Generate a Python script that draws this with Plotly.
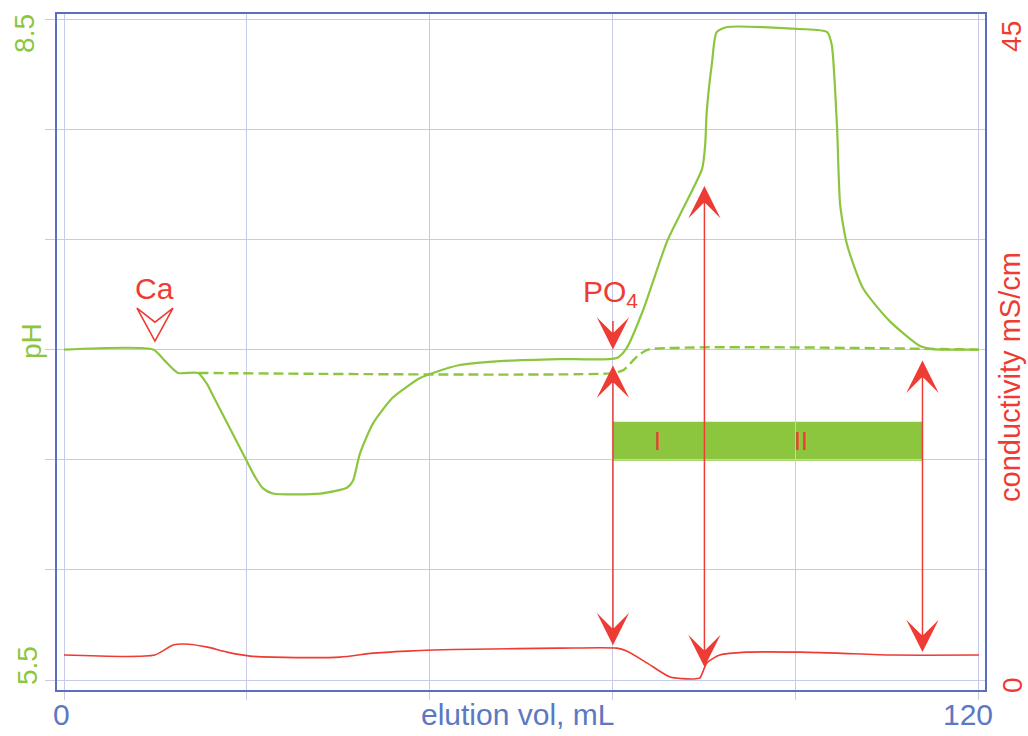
import plotly.graph_objects as go

# ---------------- data ----------------
# pH trace (solid green)
ph_x = [0, 11.7, 13.2, 14.95, 17.6, 18.75, 19.6, 24.0, 25.05, 26.1, 27.4, 33.6, 37.1, 37.9, 38.8,
        40.5, 43.1, 46.7, 48.4, 51.9, 57.2, 65.0, 72.5, 73.8, 75.9, 79.1, 81.2, 83.7, 84.1,
        84.3, 85.0, 85.6, 87.0, 96.5, 100.1, 100.7, 101.4, 101.8, 102.7, 104.8, 108.3, 112.3,
        114.0, 120]
ph_y = [7.0, 7.0, 6.95, 6.894, 6.894, 6.844, 6.787, 6.492, 6.423, 6.37, 6.347, 6.346, 6.373, 6.405, 6.527,
        6.663, 6.781, 6.871, 6.894, 6.930, 6.948, 6.957, 6.962, 7.007, 7.174, 7.491, 7.640, 7.821, 7.930,
        8.079, 8.305, 8.441, 8.464, 8.455, 8.441, 8.382, 8.002, 7.658, 7.477, 7.278, 7.129, 7.016,
        7.002, 7.0]

# pH baseline without sample (dashed green)
ph_ref_x = [17.6, 72.3, 73.5, 75.2, 76.6, 120]
ph_ref_y = [6.894, 6.894, 6.91, 6.97, 7.0, 7.0]

# conductivity trace (red)
cond_x = [0, 11.9, 14.3, 16.3, 18.8, 21.4, 24.4, 27.4, 36.2, 40.5, 45.0, 48.4, 53.6, 65.0, 72.5,
          73.8, 76.5, 79.5, 82.5, 83.4, 84.3, 86.0, 89.6, 96.5, 101.4, 108.7, 120]
cond_y = [1.70, 1.70, 2.38, 2.44, 2.24, 1.90, 1.63, 1.56, 1.56, 1.83, 1.97, 2.04, 2.10, 2.17, 2.17,
          1.97, 1.15, 0.20, 0.07, 0.14, 1.15, 1.70, 1.90, 1.90, 1.83, 1.70, 1.70]

# double-headed marker arrows (x position, pH of top tip, pH of bottom tip)
arrow_x = [72.0, 84.0, 112.6]
arrow_top = [6.934, 7.749, 6.957]
arrow_bottom = [5.658, 5.559, 5.627]

# fraction bar
fraction_start, fraction_end = 72.0, 112.6
fraction_low, fraction_high = 6.495, 6.672
fraction_labels = ["I", "II"]
fraction_label_x = [77.9, 96.6]

# injection markers
ca_x, ca_ph = 11.93, 7.12
po4_x, po4_ph = 72.0, 7.0

# axis ticks / ranges
x_grid = [0, 24, 48, 72, 96, 120]
ph_grid = [5.5, 6.0, 6.5, 7.0, 7.5, 8.0, 8.5]
x_range = [-0.92, 120.8]
ph_range = [5.455, 8.523]
cond_range = [-0.679, 45.34]

# ---------------- style ----------------
GREEN = "#8cc63f"
RED = "#ee3b33"
BLUE = "#5a6ebe"
BLUE_TXT = "#5b78c2"
GRID = "#c5cbe8"
FONT = "Liberation Sans, Arial, sans-serif"
FS_H = 30   # horizontal texts
FS_V = 28   # rotated texts

W, H = 1028, 736
ML, MR, MT, MB = 57, 43, 12, 46
PW, PH_ = W - ML - MR, H - MT - MB


def px2paper(px, py):
    return (px - ML) / PW, (H - MB - py) / PH_


fig = go.Figure()

fig.add_trace(go.Scatter(x=ph_ref_x, y=ph_ref_y, mode="lines",
                         line=dict(color=GREEN, width=2.4, dash="10px,5px", shape="spline", smoothing=0.5),
                         hoverinfo="skip", showlegend=False))
fig.add_trace(go.Scatter(x=ph_x, y=ph_y, mode="lines",
                         line=dict(color=GREEN, width=2.2, shape="spline", smoothing=0.6),
                         showlegend=False))
fig.add_trace(go.Scatter(x=cond_x, y=cond_y, mode="lines", yaxis="y2",
                         line=dict(color=RED, width=1.6, shape="spline", smoothing=0.6),
                         showlegend=False))

# fraction bar
fig.add_shape(type="rect", xref="x", yref="y", x0=fraction_start, x1=fraction_end,
              y0=fraction_low, y1=fraction_high, fillcolor=GREEN, line=dict(width=0), layer="below")

annotations = []
for lbl, lx in zip(fraction_labels, fraction_label_x):
    annotations.append(dict(x=lx, y=(fraction_low + fraction_high) / 2, xref="x", yref="y",
                            text=lbl, showarrow=False, font=dict(color=RED, size=25, family=FONT),
                            xanchor="center", yanchor="middle"))

# double-headed arrows
for ax_, top, bot in zip(arrow_x, arrow_top, arrow_bottom):
    annotations.append(dict(x=ax_, y=bot, ax=ax_, ay=top, xref="x", yref="y", axref="x", ayref="y",
                            text="", showarrow=True, arrowside="end+start",
                            arrowhead=3, startarrowhead=3, arrowsize=3.6, startarrowsize=3.6,
                            arrowwidth=1.5, arrowcolor=RED, standoff=0, startstandoff=0))

# PO4 arrowhead
annotations.append(dict(x=po4_x, y=po4_ph, xref="x", yref="y", ax=0, ay=-30, text="",
                        showarrow=True, arrowhead=3, arrowsize=3.6, arrowwidth=1.5,
                        arrowcolor=RED, standoff=0))
annotations.append(dict(x=po4_x - 0.3, y=po4_ph, xref="x", yref="y", text="PO<sub>4</sub>",
                        showarrow=False, xanchor="center", yanchor="bottom", yshift=36,
                        font=dict(color=RED, size=FS_H, family=FONT)))

# Ca open arrowhead
fig.add_shape(type="path", xref="x", yref="y", xsizemode="pixel", ysizemode="pixel",
              xanchor=ca_x, yanchor=ca_ph,
              path="M-18,15 L0,1 L18,15 L0,-18 Z",
              line=dict(color=RED, width=1.6), fillcolor="rgba(0,0,0,0)")
annotations.append(dict(x=ca_x, y=ca_ph, xref="x", yref="y", text="Ca", showarrow=False,
                        xanchor="center", yanchor="bottom", yshift=16,
                        font=dict(color=RED, size=FS_H, family=FONT)))


# axis tick labels and titles as text
def lab(text, px, py, color, angle=0, size=FS_H):
    x, y = px2paper(px, py)
    annotations.append(dict(x=x, y=y, xref="paper", yref="paper", text=text, showarrow=False,
                            textangle=angle, xanchor="center", yanchor="middle",
                            font=dict(color=color, size=size, family=FONT)))


lab("8.5", 25, 32, GREEN, -90, FS_V)
lab("5.5", 27, 665, GREEN, -90, FS_V)
lab("pH", 31, 340, GREEN, -90, FS_V)
lab("45", 1012, 35, RED, -90, FS_V)
lab("0", 1012, 685, RED, -90, FS_V)
lab("conductivity mS/cm", 1010, 376, RED, -90, 29)
lab("0", 61, 715, BLUE_TXT)
lab("120", 968, 715, BLUE_TXT)
lab("elution vol, mL", 517, 715, BLUE_TXT, 0, 30)

fig.update_layout(
    width=W, height=H,
    margin=dict(l=ML, r=MR, t=MT, b=MB),
    plot_bgcolor="white", paper_bgcolor="white",
    showlegend=False,
    annotations=annotations,
    xaxis=dict(range=x_range, tickvals=x_grid, showticklabels=False, showgrid=True,
               gridcolor=GRID, gridwidth=1, zeroline=False, showline=True, mirror=True,
               linecolor=BLUE, linewidth=2, ticks="outside", ticklen=8, tickcolor=GRID, tickwidth=1),
    yaxis=dict(range=ph_range, tickvals=ph_grid, showticklabels=False, showgrid=True,
               gridcolor=GRID, gridwidth=1, zeroline=False, showline=True, mirror=True,
               linecolor=BLUE, linewidth=2, ticks="outside", ticklen=10, tickcolor=GRID, tickwidth=1),
    yaxis2=dict(range=cond_range, overlaying="y", side="right", showgrid=False,
                showticklabels=False, zeroline=False, showline=False),
)

fig.write_html("out.html")
